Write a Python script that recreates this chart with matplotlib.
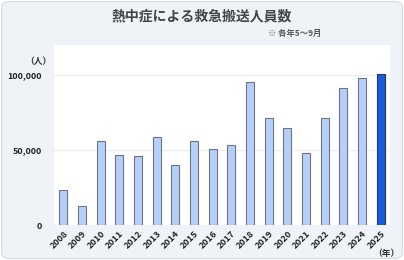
import numpy as np
import matplotlib
matplotlib.use("Agg")
import matplotlib.pyplot as plt
from matplotlib.patches import FancyBboxPatch
from matplotlib.ticker import FuncFormatter

plt.rcParams['font.family'] = ['Noto Sans CJK JP', 'DejaVu Sans']

years = ["2008", "2009", "2010", "2011", "2012", "2013", "2014", "2015", "2016",
         "2017", "2018", "2019", "2020", "2021", "2022", "2023", "2024", "2025"]
patients = [23000, 12920, 56119, 46469, 45701, 58729, 40048, 55852, 50412,
            52984, 95137, 71317, 64869, 47877, 71029, 91467, 97578, 100510]
yticks = [0, 50000, 100000]

title = "熱中症による救急搬送人員数"
note = "※ 各年5～9月"

bg = "#eff3f8"
light = "#b5cff8"
dark = "#1a5ce0"

fig = plt.figure(figsize=(4.04, 2.60), dpi=100)
fig.patch.set_facecolor("white")
fig.patches.append(FancyBboxPatch((0.004, 0.006), 0.992, 0.988,
                                  boxstyle="round,pad=0,rounding_size=0.02",
                                  transform=fig.transFigure, facecolor=bg,
                                  edgecolor="#d5dae1", linewidth=0.8, zorder=-10))

ax = fig.add_axes([0.1337, 0.1346, 0.8317, 0.6923])
ax.set_facecolor("white")

x = np.arange(len(years))
colors = [light] * (len(years) - 1) + [dark]
edges = ["#6f7580"] * (len(years) - 1) + ["#2b3550"]
ax.bar(x, patients, width=0.43, color=colors, edgecolor=edges, linewidth=0.8, zorder=3)

ax.set_xlim(-0.5, len(years) - 0.5)
ax.set_ylim(0, 119800)
ax.set_yticks(yticks)
ax.yaxis.set_major_formatter(FuncFormatter(lambda v, p: f"{int(v):,}"))
ax.grid(axis="y", color="#ececec", linewidth=0.8, zorder=0)
for s in ax.spines.values():
    s.set_visible(False)
ax.tick_params(axis="y", length=0, pad=9, labelsize=6.5, labelcolor="#222")
ax.tick_params(axis="x", length=0, pad=3, labelsize=6.5, labelcolor="#222")
ax.set_xticks(x)
ax.set_xticklabels(years, rotation=45, ha="right", va="top", rotation_mode="anchor",
                   fontweight="bold")
for lab in ax.get_yticklabels():
    lab.set_fontweight("bold")

fig.text(0.5, 0.935, title, ha="center", va="center", fontsize=10,
         fontweight="bold", color="#444444")
fig.text(0.663, 0.873, note, ha="left", va="center", fontsize=6,
         fontweight="bold", color="#555555")
fig.text(0.128, 0.765, "（人）", ha="right", va="center", fontsize=6.3,
         fontweight="bold", color="#333333")
fig.text(0.99, 0.025, "（年）", ha="right", va="center", fontsize=6.3,
         fontweight="bold", color="#333333")

fig.savefig("out.png", dpi=100, facecolor=fig.get_facecolor())
